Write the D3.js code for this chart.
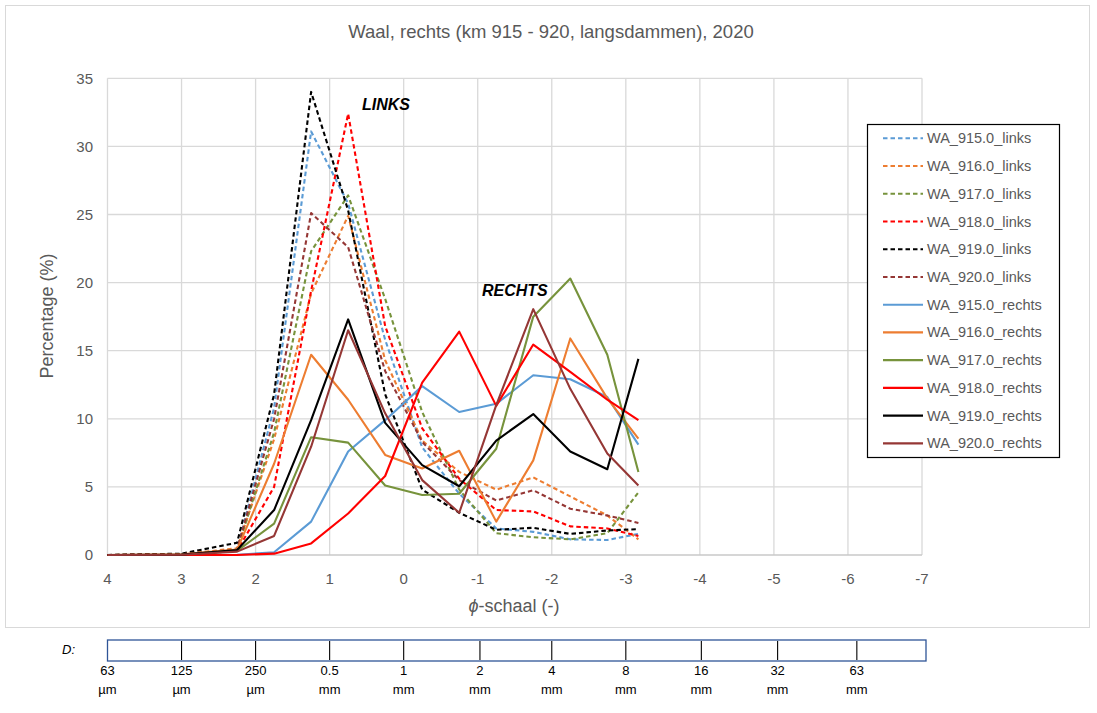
<!DOCTYPE html>
<html><head><meta charset="utf-8">
<script src="https://cdn.jsdelivr.net/npm/d3@7/dist/d3.min.js"></script>
<style>
body{margin:0;background:#fff;}
text{font-family:"Liberation Sans",Arial,sans-serif;}
</style></head>
<body><svg id="c" width="1097" height="713"></svg>
<script>
// ---- data ----
const phi = [4, 3, 2.25, 1.75, 1.25, 0.75, 0.25, -0.25, -0.75, -1.25, -1.75, -2.25, -2.75, -3.17];
const seriesNames = ["WA_915.0_links","WA_916.0_links","WA_917.0_links","WA_918.0_links","WA_919.0_links","WA_920.0_links",
  "WA_915.0_rechts","WA_916.0_rechts","WA_917.0_rechts","WA_918.0_rechts","WA_919.0_rechts","WA_920.0_rechts"];
const wa915links  = [0, 0.05, 0.4, 10.8, 31.1, 25.8, 15.8, 7.9, 4.5, 1.95, 1.7, 1.15, 1.1, 1.55];
const wa916links  = [0, 0.05, 0.5, 8.5, 19.2, 24.9, 14.3, 8.4, 6.1, 4.8, 5.7, 4.3, 2.9, 1.15];
const wa917links  = [0, 0.05, 0.35, 9.0, 22.3, 26.4, 18.8, 10.5, 4.8, 1.6, 1.3, 1.15, 1.6, 4.6];
const wa918links  = [0, 0.02, 0.3, 5.0, 19.4, 32.4, 16.8, 9.3, 5.6, 3.3, 3.2, 2.1, 1.95, 1.4];
const wa919links  = [0, 0.1, 0.9, 11.8, 34.0, 25.3, 11.8, 4.8, 3.1, 1.85, 2.0, 1.55, 1.8, 1.9];
const wa920links  = [0, 0.05, 0.4, 10.0, 25.1, 22.6, 13.5, 8.3, 5.5, 4.0, 4.75, 3.4, 2.9, 2.35];
const wa915rechts = [0, 0, 0.02, 0.2, 2.45, 7.6, 9.9, 12.4, 10.5, 11.1, 13.2, 12.9, 11.6, 8.1];
const wa916rechts = [0, 0.05, 0.4, 6.7, 14.7, 11.4, 7.35, 6.35, 7.65, 2.45, 6.95, 15.9, 11.5, 8.55];
const wa917rechts = [0, 0.02, 0.3, 2.3, 8.65, 8.25, 5.1, 4.4, 4.5, 7.8, 17.5, 20.3, 14.7, 6.1];
const wa918rechts = [0, 0, 0, 0.1, 0.85, 3.05, 5.8, 12.65, 16.4, 10.95, 15.45, 13.45, 11.4, 9.9];
const wa919rechts = [0, 0.03, 0.37, 3.3, 9.9, 17.3, 9.7, 6.6, 5.05, 8.4, 10.35, 7.6, 6.3, 14.4];
const wa920rechts = [0, 0.02, 0.25, 1.4, 7.95, 16.5, 10.4, 5.5, 3.1, 11.0, 18.05, 12.2, 7.45, 5.1];
const seriesValues = [wa915links, wa916links, wa917links, wa918links, wa919links, wa920links,
  wa915rechts, wa916rechts, wa917rechts, wa918rechts, wa919rechts, wa920rechts];
const seriesColors = ["#5B9BD5","#ED7D31","#77933C","#FF0000","#000000","#953735",
  "#5B9BD5","#ED7D31","#77933C","#FF0000","#000000","#953735"];
const seriesDashed = [true,true,true,true,true,true,false,false,false,false,false,false];
const xTicks = [4, 3, 2, 1, 0, -1, -2, -3, -4, -5, -6, -7];
const yTicks = [0, 5, 10, 15, 20, 25, 30, 35];
const dNumbers = ["63","125","250","0.5","1","2","4","8","16","32","63"];
const dUnits = ["µm","µm","µm","mm","mm","mm","mm","mm","mm","mm","mm"];
const dPhi = [4, 3, 2, 1, 0, -1.03, -2, -3, -4.02, -5.05, -6.12];
const title = "Waal, rechts (km 915 - 920, langsdammen), 2020";

// ---- drawing ----
const svg = d3.select("#c");
const x = d3.scaleLinear().domain([4, -7]).range([107.5, 922]);
const y = d3.scaleLinear().domain([0, 35]).range([555, 78.3]);
const grey = "#595959";

// chart area border
svg.append("rect").attr("x",5.5).attr("y",5.5).attr("width",1084).attr("height",622)
  .attr("fill","none").attr("stroke","#d9d9d9").attr("stroke-width",1);

// grid
svg.append("g").selectAll("line").data(yTicks.filter(d=>d>0)).join("line")
  .attr("x1",x(4)).attr("x2",x(-7)).attr("y1",d=>y(d)).attr("y2",d=>y(d))
  .attr("stroke","#d9d9d9").attr("stroke-width",1.3);
svg.append("g").selectAll("line").data(xTicks).join("line")
  .attr("x1",d=>x(d)).attr("x2",d=>x(d)).attr("y1",y(0)).attr("y2",y(35))
  .attr("stroke","#d9d9d9").attr("stroke-width",1.3);
svg.append("line").attr("x1",x(4)).attr("x2",x(-7)).attr("y1",y(0)).attr("y2",y(0))
  .attr("stroke","#c8c8c8").attr("stroke-width",1.5);

// axis labels
svg.append("g").selectAll("text").data(yTicks).join("text")
  .attr("x",93).attr("y",d=>y(d)).attr("dy","0.35em").attr("text-anchor","end")
  .attr("fill",grey).style("font-size","15px").text(d=>d);
svg.append("g").selectAll("text").data(xTicks).join("text")
  .attr("x",d=>x(d)).attr("y",579).attr("dy","0.35em").attr("text-anchor","middle")
  .attr("fill",grey).style("font-size","15px").text(d=>d);

svg.append("text").attr("x",551).attr("y",32).attr("dy","0.35em").attr("text-anchor","middle")
  .attr("fill",grey).style("font-size","18.5px").text(title);
svg.append("text").attr("transform","translate(47,316) rotate(-90)").attr("dy","0.35em")
  .attr("text-anchor","middle").attr("fill",grey).style("font-size","18px").text("Percentage (%)");
const xt = svg.append("text").attr("x",514).attr("y",606).attr("dy","0.35em").attr("text-anchor","middle")
  .attr("fill",grey).style("font-size","18px");
xt.append("tspan").style("font-style","italic").text("ϕ");
xt.append("tspan").text("-schaal (-)");

// lines
const line = d3.line().x((d,i)=>x(phi[i])).y(d=>y(d));
seriesValues.forEach((vals,k)=>{
  svg.append("path").datum(vals).attr("d",line).attr("fill","none")
    .attr("stroke",seriesColors[k]).attr("stroke-width",2.1)
    .attr("stroke-linejoin","round")
    .attr("stroke-dasharray",seriesDashed[k]?"4.5,3":null);
});

// annotations
svg.append("text").attr("x",362).attr("y",110).attr("fill","#000")
  .style("font-size","16px").style("font-weight","bold").style("font-style","italic").text("LINKS");
svg.append("text").attr("x",482).attr("y",296).attr("fill","#000")
  .style("font-size","16px").style("font-weight","bold").style("font-style","italic").text("RECHTS");

// legend
const lg = svg.append("g");
lg.append("rect").attr("x",867.5).attr("y",124.5).attr("width",192).attr("height",333)
  .attr("fill","#fff").attr("stroke","#000").attr("stroke-width",1.2);
seriesNames.forEach((n,k)=>{
  const yy = 138.3 + k*27.73;
  lg.append("line").attr("x1",883).attr("x2",923).attr("y1",yy).attr("y2",yy)
    .attr("stroke",seriesColors[k]).attr("stroke-width",2.1)
    .attr("stroke-dasharray",seriesDashed[k]?"4.5,3":null);
  lg.append("text").attr("x",927).attr("y",yy).attr("dy","0.35em").attr("fill",grey)
    .style("font-size","14.5px").text(n);
});

// D scale box
const bx0 = x(4), bx1 = x(-7)+4;
svg.append("rect").attr("x",bx0).attr("y",640).attr("width",bx1-bx0).attr("height",21)
  .attr("fill","none").attr("stroke","#2F5597").attr("stroke-width",1.3);
svg.append("g").selectAll("line").data(dPhi.slice(1)).join("line")
  .attr("x1",d=>x(d)).attr("x2",d=>x(d)).attr("y1",641).attr("y2",660)
  .attr("stroke","#000").attr("stroke-width",1.1);
svg.append("g").selectAll("text").data(dNumbers).join("text")
  .attr("x",(d,i)=>x(dPhi[i])).attr("y",670).attr("dy","0.35em").attr("text-anchor","middle")
  .attr("fill","#000").style("font-size","13px").text(d=>d);
svg.append("g").selectAll("text").data(dUnits).join("text")
  .attr("x",(d,i)=>x(dPhi[i])).attr("y",689).attr("dy","0.35em").attr("text-anchor","middle")
  .attr("fill","#000").style("font-size","13px").text(d=>d);
svg.append("text").attr("x",62).attr("y",649).attr("dy","0.35em").attr("fill","#000")
  .style("font-size","13px").style("font-style","italic").text("D:");
</script></body></html>
